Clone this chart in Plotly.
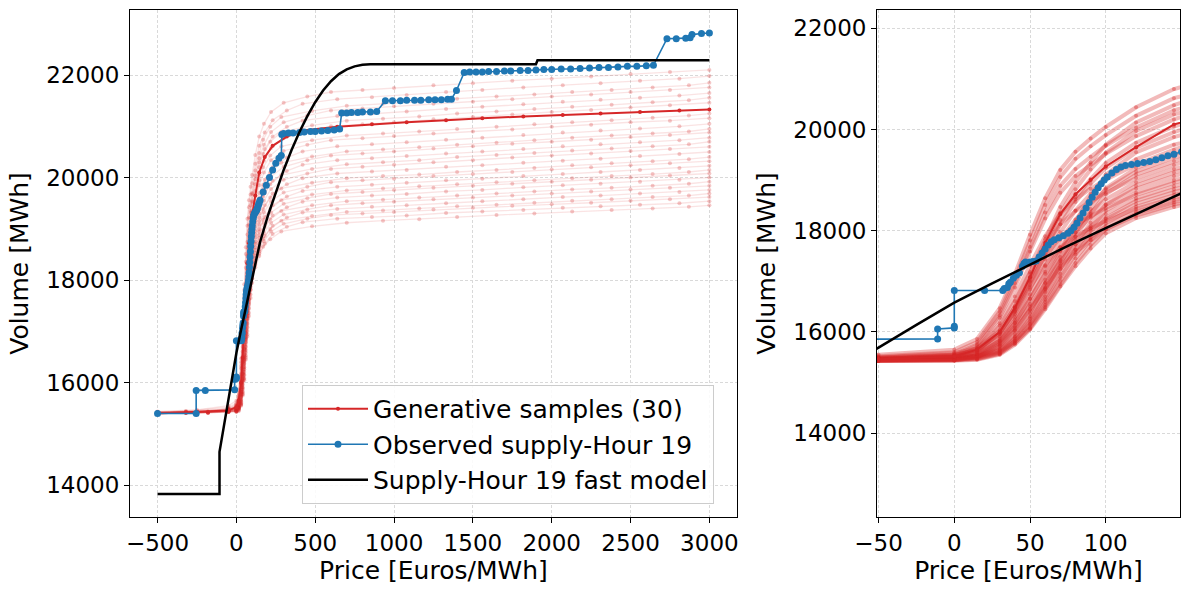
import plotly.graph_objects as go

# Price grids of the generative samples (Euros/MWh); the samples were read at
# slightly different prices, so three grids are used in turn
sample_prices_a = [-500, -250, -50, 0, 15, 30, 40, 50, 60, 70, 80, 90, 100, 120, 145,
                   175, 220, 300, 450, 600, 800, 1000, 1250, 1500, 1750, 2000, 2250, 2500, 2750, 3000]
sample_prices_b = [-500, -320, -50, 0, 15, 30, 40, 50, 60, 70, 80, 90, 100, 120, 145,
                   180, 230, 320, 420, 640, 860, 1080, 1330, 1560, 1820, 2070, 2310, 2560, 2810, 3000]
sample_prices_c = [-500, -180, -50, 0, 15, 30, 40, 50, 60, 70, 80, 90, 100, 120, 145,
                   170, 215, 285, 480, 700, 930, 1160, 1400, 1650, 1890, 2130, 2380, 2640, 2870, 3000]

# Volumes (MWh) of the 30 generative samples
sample_01 = [15440, 15470, 15550, 15650, 15860, 16470, 17140, 17920, 18640, 19200, 19560, 19820, 20050, 20440, 20800,
             21050, 21280, 21460, 21580, 21670, 21710, 21750, 21800, 21840, 21890, 21930, 21970, 22020, 22060, 22100]
sample_02 = [15420, 15450, 15520, 15600, 15800, 16400, 17060, 17810, 18510, 19060, 19420, 19670, 19890, 20270, 20620,
             20880, 21120, 21310, 21440, 21530, 21570, 21610, 21670, 21710, 21760, 21800, 21840, 21890, 21930, 21980]
sample_03 = [15430, 15440, 15500, 15580, 15680, 16020, 16510, 17150, 17830, 18470, 18960, 19350, 19700, 20140, 20480,
             20740, 20990, 21180, 21300, 21400, 21440, 21480, 21540, 21580, 21620, 21670, 21710, 21760, 21800, 21850]
sample_04 = [15410, 15430, 15490, 15560, 15750, 16330, 16960, 17680, 18360, 18890, 19220, 19460, 19680, 20040, 20380,
             20640, 20890, 21080, 21210, 21310, 21350, 21390, 21440, 21480, 21530, 21580, 21620, 21670, 21710, 21760]
sample_05 = [15420, 15440, 15480, 15540, 15640, 15970, 16440, 17060, 17730, 18350, 18820, 19210, 19540, 19970, 20300,
             20560, 20800, 20990, 21110, 21200, 21250, 21290, 21340, 21380, 21430, 21480, 21520, 21560, 21600, 21650]
sample_06 = [15400, 15420, 15470, 15530, 15720, 16280, 16880, 17590, 18240, 18750, 19080, 19310, 19520, 19870, 20200,
             20460, 20700, 20890, 21020, 21110, 21150, 21190, 21250, 21290, 21340, 21380, 21420, 21470, 21510, 21560]
sample_07 = [15430, 15450, 15490, 15550, 15640, 15960, 16410, 16990, 17630, 18210, 18660, 19020, 19340, 19740, 20060,
             20330, 20580, 20770, 20900, 21000, 21040, 21080, 21140, 21180, 21230, 21280, 21320, 21370, 21410, 21460]
sample_08 = [15400, 15420, 15460, 15520, 15650, 16000, 16480, 17080, 17760, 18330, 18720, 19000, 19270, 19650, 20100,
             20400, 20620, 20800, 20920, 20990, 21040, 21080, 21120, 21160, 21190, 21220, 21250, 21280, 21310, 21330]
sample_09 = [15410, 15430, 15470, 15510, 15600, 15910, 16350, 16930, 17550, 18130, 18570, 18930, 19240, 19640, 19950,
             20200, 20430, 20610, 20730, 20820, 20860, 20900, 20950, 20990, 21040, 21080, 21120, 21170, 21210, 21250]
sample_10 = [15420, 15430, 15460, 15500, 15530, 15670, 15960, 16370, 16960, 17590, 18180, 18680, 19110, 19550, 19850,
             20100, 20340, 20520, 20640, 20730, 20770, 20810, 20860, 20900, 20940, 20990, 21030, 21080, 21110, 21160]
sample_11 = [15400, 15420, 15450, 15490, 15570, 15870, 16290, 16840, 17430, 17970, 18400, 18730, 19030, 19410, 19700,
             19960, 20200, 20390, 20510, 20610, 20650, 20690, 20740, 20780, 20830, 20880, 20920, 20960, 21000, 21050]
sample_12 = [15410, 15430, 15470, 15520, 15680, 16170, 16700, 17320, 17890, 18340, 18620, 18830, 19010, 19310, 19600,
             19860, 20100, 20290, 20410, 20510, 20550, 20590, 20640, 20680, 20730, 20780, 20820, 20860, 20900, 20950]
sample_13 = [15420, 15430, 15460, 15490, 15520, 15650, 15910, 16300, 16840, 17420, 17970, 18430, 18840, 19240, 19520,
             19780, 20020, 20210, 20340, 20430, 20470, 20510, 20570, 20610, 20660, 20700, 20740, 20790, 20830, 20880]
sample_14 = [15400, 15410, 15440, 15470, 15550, 15830, 16230, 16740, 17300, 17820, 18220, 18540, 18810, 19170, 19450,
             19700, 19940, 20130, 20250, 20340, 20380, 20420, 20470, 20510, 20560, 20610, 20650, 20690, 20730, 20780]
sample_15 = [15410, 15420, 15450, 15480, 15510, 15640, 15890, 16260, 16790, 17350, 17880, 18330, 18720, 19110, 19380,
             19630, 19870, 20050, 20170, 20260, 20300, 20340, 20400, 20440, 20480, 20530, 20570, 20610, 20650, 20700]
sample_16 = [15420, 15440, 15470, 15510, 15660, 16120, 16610, 17180, 17710, 18130, 18390, 18580, 18750, 19040, 19300,
             19550, 19780, 19960, 20080, 20170, 20210, 20250, 20300, 20340, 20390, 20430, 20470, 20520, 20560, 20600]
sample_17 = [15400, 15410, 15440, 15460, 15540, 15800, 16170, 16660, 17190, 17680, 18050, 18360, 18620, 18960, 19220,
             19460, 19690, 19870, 19990, 20080, 20120, 20150, 20210, 20240, 20290, 20330, 20370, 20420, 20460, 20500]
sample_18 = [15410, 15420, 15450, 15470, 15500, 15620, 15860, 16210, 16700, 17240, 17730, 18160, 18520, 18890, 19150,
             19390, 19610, 19790, 19900, 19990, 20030, 20060, 20110, 20150, 20190, 20240, 20280, 20320, 20360, 20400]
sample_19 = [15420, 15430, 15460, 15500, 15570, 15820, 16180, 16650, 17150, 17610, 17970, 18260, 18510, 18830, 19080,
             19320, 19540, 19710, 19820, 19910, 19950, 19980, 20030, 20070, 20110, 20160, 20200, 20240, 20280, 20320]
sample_20 = [15400, 15410, 15430, 15450, 15480, 15590, 15820, 16160, 16640, 17150, 17630, 18040, 18400, 18750, 19000,
             19230, 19460, 19630, 19740, 19820, 19860, 19900, 19950, 19980, 20030, 20070, 20110, 20150, 20190, 20230]
sample_21 = [15410, 15420, 15450, 15480, 15620, 16040, 16490, 17010, 17490, 17870, 18120, 18290, 18450, 18710, 18950,
             19180, 19390, 19560, 19670, 19750, 19790, 19830, 19870, 19910, 19950, 19990, 20030, 20070, 20110, 20150]
sample_22 = [15400, 15410, 15440, 15460, 15530, 15770, 16110, 16550, 17030, 17480, 17820, 18090, 18330, 18640, 18880,
             19110, 19320, 19490, 19600, 19680, 19720, 19760, 19800, 19840, 19880, 19920, 19960, 20000, 20040, 20080]
sample_23 = [15420, 15430, 15450, 15470, 15490, 15600, 15820, 16140, 16590, 17080, 17530, 17920, 18250, 18590, 18820,
             19040, 19260, 19420, 19530, 19610, 19650, 19680, 19730, 19760, 19810, 19850, 19880, 19920, 19960, 20000]
sample_24 = [15410, 15420, 15440, 15450, 15520, 15750, 16080, 16510, 16970, 17400, 17730, 18000, 18230, 18530, 18760,
             18980, 19190, 19350, 19460, 19540, 19570, 19610, 19650, 19690, 19730, 19770, 19800, 19840, 19880, 19920]
sample_25 = [15400, 15410, 15430, 15440, 15460, 15570, 15780, 16090, 16530, 17010, 17450, 17820, 18150, 18470, 18700,
             18920, 19120, 19280, 19380, 19460, 19500, 19530, 19580, 19610, 19650, 19690, 19730, 19770, 19800, 19840]
sample_26 = [15410, 15420, 15450, 15480, 15610, 15990, 16400, 16880, 17320, 17670, 17890, 18050, 18190, 18430, 18650,
             18860, 19060, 19220, 19320, 19390, 19430, 19460, 19500, 19540, 19580, 19620, 19650, 19690, 19720, 19760]
sample_27 = [15400, 15410, 15430, 15440, 15500, 15720, 16040, 16450, 16890, 17300, 17620, 17870, 18090, 18380, 18600,
             18810, 19000, 19160, 19250, 19330, 19360, 19400, 19440, 19470, 19510, 19550, 19580, 19620, 19650, 19690]
sample_28 = [15420, 15430, 15440, 15450, 15470, 15570, 15780, 16070, 16490, 16940, 17360, 17720, 18030, 18340, 18560,
             18760, 18950, 19100, 19200, 19270, 19300, 19330, 19380, 19410, 19450, 19480, 19510, 19550, 19580, 19620]
sample_29 = [15410, 15420, 15430, 15440, 15500, 15720, 16030, 16430, 16860, 17260, 17570, 17810, 18030, 18300, 18520,
             18710, 18900, 19040, 19130, 19200, 19230, 19260, 19310, 19340, 19370, 19410, 19440, 19470, 19500, 19540]
sample_30 = [15400, 15410, 15430, 15430, 15450, 15550, 15750, 16050, 16450, 16900, 17300, 17650, 17950, 18250, 18470,
             18650, 18800, 18950, 19050, 19120, 19160, 19190, 19230, 19270, 19300, 19340, 19370, 19400, 19430, 19460]

# Observed supply curve, hour 19
observed_price = [-500, -255, -255, -197, -11, -11, 0, 0, 0, 20,
                  32, 33, 35, 36, 37, 39, 41, 43, 45, 46,
                  47, 50, 52, 54, 56, 58, 60, 62, 64, 66,
                  69, 72, 75, 77, 79, 81, 83, 85, 87, 89,
                  91, 93, 95, 97, 99, 101, 104, 107, 110, 113,
                  117, 121, 125, 129, 133, 137, 141, 145, 150, 170,
                  190, 210, 230, 250, 270, 285, 288, 300, 330, 360,
                  400, 430, 470, 500, 540, 580, 620, 655, 668, 700,
                  730, 770, 800, 850, 890, 945, 990, 1040, 1080, 1130,
                  1170, 1220, 1260, 1300, 1340, 1364, 1396, 1445, 1480, 1520,
                  1560, 1600, 1650, 1700, 1740, 1800, 1850, 1900, 1950, 2000,
                  2060, 2120, 2180, 2240, 2300, 2360, 2420, 2480, 2540, 2600,
                  2645, 2731, 2790, 2850, 2878, 2890, 2950, 3000]
observed_volume = [15400, 15400, 15850, 15850, 15860, 16060, 16080, 16110, 16820, 16820,
                   16820, 16860, 16880, 16950, 16980, 17060, 17120, 17170, 17300, 17350,
                   17380, 17380, 17390, 17400, 17480, 17560, 17640, 17720, 17780, 17820,
                   17860, 17900, 17950, 18000, 18070, 18150, 18250, 18350, 18450, 18560,
                   18660, 18760, 18850, 18930, 19000, 19060, 19140, 19210, 19260, 19290,
                   19310, 19330, 19350, 19370, 19400, 19440, 19480, 19510, 19560, 19720,
                   19850, 20000, 20150, 20280, 20380, 20430, 20840, 20860, 20870, 20870,
                   20880, 20890, 20900, 20900, 20910, 20920, 20930, 20950, 21260, 21260,
                   21270, 21270, 21280, 21280, 21290, 21500, 21500, 21500, 21510, 21510,
                   21510, 21520, 21520, 21520, 21530, 21530, 21700, 22050, 22060, 22060,
                   22060, 22070, 22070, 22080, 22080, 22090, 22090, 22100, 22110, 22110,
                   22120, 22120, 22130, 22140, 22150, 22150, 22160, 22170, 22170, 22180,
                   22190, 22710, 22710, 22720, 22730, 22790, 22810, 22820]

# Fast model supply curve, hour 19
model_price = [-500, -107, -107, -80, -50, -25, 0, 25, 50, 75, 100, 125, 150, 200, 250,
               300, 350, 400, 450, 500, 550, 600, 650, 700, 750, 800, 850, 1900, 1910, 3000]
model_volume = [13830, 13830, 14650, 15150, 15690, 16140, 16580, 16960, 17330, 17700, 18050, 18400, 18740, 19260, 19720,
                20150, 20540, 20890, 21200, 21470, 21700, 21880, 22020, 22110, 22170, 22200, 22210, 22210, 22290, 22290]

left_x_ticks = [-500, 0, 500, 1000, 1500, 2000, 2500, 3000]
left_x_labels = ["\u2212500", "0", "500", "1000", "1500", "2000", "2500", "3000"]
right_x_ticks = [-50, 0, 50, 100]
right_x_labels = ["\u221250", "0", "50", "100"]
y_ticks = [14000, 16000, 18000, 20000, 22000]
y_labels = ["14000", "16000", "18000", "20000", "22000"]

samples = [sample_01, sample_02, sample_03, sample_04, sample_05, sample_06, sample_07, sample_08, sample_09, sample_10,
           sample_11, sample_12, sample_13, sample_14, sample_15, sample_16, sample_17, sample_18, sample_19, sample_20,
           sample_21, sample_22, sample_23, sample_24, sample_25, sample_26, sample_27, sample_28, sample_29, sample_30]
sample_grids = [sample_prices_a, sample_prices_b, sample_prices_c]
HIGHLIGHT = 7

RED = "#d62728"
BLUE = "#1f77b4"
FONT = "DejaVu Sans"


def add_curves(fig, xa, ya, faded_line, faded_width, faded_marker, legend):
    # faded samples first, then the labelled one, observed and model on top
    for i, vol in enumerate(samples):
        if i == HIGHLIGHT:
            continue
        fig.add_trace(go.Scatter(
            x=sample_grids[i % 3], y=vol, xaxis=xa, yaxis=ya, mode="lines+markers",
            line=dict(color=faded_line, width=faded_width),
            marker=dict(color=faded_marker, size=4, line=dict(width=0)),
            showlegend=False, hoverinfo="skip"))
    fig.add_trace(go.Scatter(
        x=sample_grids[HIGHLIGHT % 3], y=samples[HIGHLIGHT], xaxis=xa, yaxis=ya, mode="lines+markers",
        name="Generative samples (30)", line=dict(color=RED, width=2),
        marker=dict(color=RED, size=4), showlegend=legend))
    fig.add_trace(go.Scatter(
        x=observed_price, y=observed_volume, xaxis=xa, yaxis=ya, mode="lines+markers",
        name="Observed supply-Hour 19", line=dict(color=BLUE, width=1.6),
        marker=dict(color=BLUE, size=7), showlegend=legend))
    fig.add_trace(go.Scatter(
        x=model_price, y=model_volume, xaxis=xa, yaxis=ya, mode="lines",
        name="Supply-Hour 19 fast model", line=dict(color="black", width=2.5),
        showlegend=legend))


fig = go.Figure()
add_curves(fig, "x", "y", "rgba(214,39,40,0.13)", 1.3, "rgba(214,39,40,0.26)", True)
add_curves(fig, "x2", "y2", "rgba(214,39,40,0.32)", 4, "rgba(214,39,40,0.4)", False)

axis_style = dict(
    showline=True, mirror=True, linecolor="black", linewidth=1,
    ticks="outside", ticklen=5, tickwidth=1, tickcolor="black",
    tickfont=dict(size=23, color="black", family=FONT),
    showgrid=True, gridcolor="#d9d9d9", gridwidth=0.8, griddash="3px,2px",
    zeroline=False, automargin=False,
)
title_font = dict(size=25, color="black", family=FONT)

fig.update_layout(
    width=1190, height=590,
    margin=dict(l=0, r=0, t=0, b=0),
    paper_bgcolor="white", plot_bgcolor="white",
    font=dict(family=FONT, color="black"),
    xaxis=dict(domain=[0.1092, 0.6193], range=[-675, 3175], tickvals=left_x_ticks, ticktext=left_x_labels,
               title=dict(text="Price [Euros/MWh]", font=title_font, standoff=3), anchor="y", **axis_style),
    yaxis=dict(domain=[0.1237, 0.9831], range=[13380, 23270], tickvals=y_ticks, ticktext=y_labels,
               title=dict(text="Volume [MWh]", font=title_font, standoff=10), anchor="x", **axis_style),
    xaxis2=dict(domain=[0.737, 0.9916], range=[-51, 149], tickvals=right_x_ticks, ticktext=right_x_labels,
                title=dict(text="Price [Euros/MWh]", font=title_font, standoff=3), anchor="y2", **axis_style),
    yaxis2=dict(domain=[0.1237, 0.9831], range=[12343, 22362], tickvals=y_ticks, ticktext=y_labels,
                title=dict(text="Volume [MWh]", font=title_font, standoff=10), anchor="x2", **axis_style),
    legend=dict(x=0.600, y=0.1458, xanchor="right", yanchor="bottom", itemwidth=60,
                bgcolor="rgba(255,255,255,0.85)", bordercolor="#cccccc", borderwidth=1,
                font=dict(size=25, color="black", family=FONT), tracegroupgap=0),
)

# drop the browser's default page margin so the figure sits at the top-left corner
fig.write_html("out.html", config={"displayModeBar": False},
               post_script="document.body.style.margin = '0';")
